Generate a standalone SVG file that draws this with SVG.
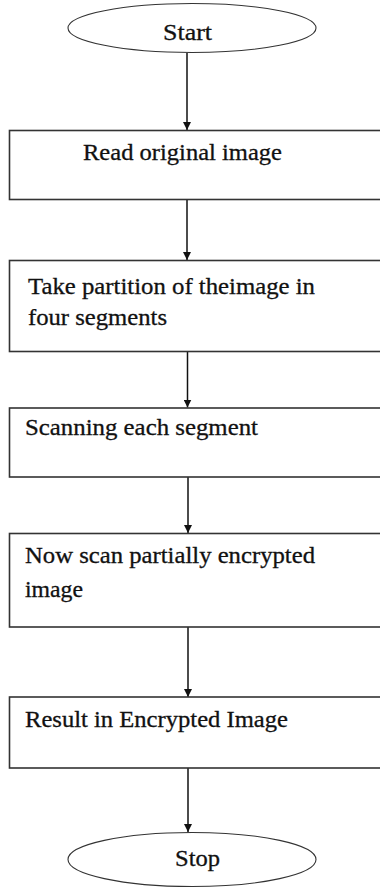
<svg xmlns="http://www.w3.org/2000/svg" width="380" height="888" viewBox="0 0 380 888">
<style>
.box{fill:#fff;stroke:#333;stroke-width:1.6}
.term{fill:#fff;stroke:#333;stroke-width:1.1}
.t{font-family:"Liberation Serif","DejaVu Serif",serif;font-size:23px;fill:#111;stroke:#111;stroke-width:0.3}
.c{stroke:#111;stroke-width:1.5;fill:none;marker-end:url(#ah)}
</style>
<defs>
<marker id="ah" viewBox="0 0 10 10" refX="10" refY="5" markerWidth="8" markerHeight="8" markerUnits="userSpaceOnUse" orient="auto">
<path d="M0,0 L10,5 L0,10 z" fill="#111"/>
</marker>
</defs>
<rect width="380" height="888" fill="#fff"/>
<g id="connectors">
<line class="c" x1="187" y1="53" x2="187" y2="130"/>
<line class="c" x1="187" y1="200" x2="187" y2="260"/>
<line class="c" x1="187.5" y1="352" x2="187.5" y2="407.5"/>
<line class="c" x1="188" y1="477" x2="188" y2="533"/>
<line class="c" x1="188" y1="627" x2="188" y2="697"/>
<line class="c" x1="188" y1="768" x2="188" y2="832"/>
</g>
<g id="start">
<ellipse class="term" cx="192" cy="28" rx="124" ry="24.5"/>
<text class="t" x="163" y="40" textLength="49" lengthAdjust="spacingAndGlyphs">Start</text>
</g>
<g id="read">
<rect class="box" x="9.5" y="130.5" width="380" height="69"/>
<text class="t" x="83" y="160" textLength="199" lengthAdjust="spacingAndGlyphs">Read original image</text>
</g>
<g id="partition">
<rect class="box" x="9.5" y="260.5" width="380" height="91"/>
<text class="t" x="28" y="294" textLength="287" lengthAdjust="spacingAndGlyphs">Take partition of theimage in</text>
<text class="t" x="28" y="325" textLength="139" lengthAdjust="spacingAndGlyphs">four segments</text>
</g>
<g id="scanning">
<rect class="box" x="9.5" y="408" width="380" height="69"/>
<text class="t" x="25" y="435" textLength="233" lengthAdjust="spacingAndGlyphs">Scanning each segment</text>
</g>
<g id="scan-partial">
<rect class="box" x="9.5" y="533.5" width="380" height="93.5"/>
<text class="t" x="25" y="563" textLength="290" lengthAdjust="spacingAndGlyphs">Now scan partially encrypted</text>
<text class="t" x="25" y="597" textLength="58" lengthAdjust="spacingAndGlyphs">image</text>
</g>
<g id="result">
<rect class="box" x="9.5" y="697" width="380" height="71"/>
<text class="t" x="25" y="727" textLength="263" lengthAdjust="spacingAndGlyphs">Result in Encrypted Image</text>
</g>
<g id="stop">
<ellipse class="term" cx="192" cy="859.5" rx="124" ry="27"/>
<text class="t" x="175" y="866" textLength="45" lengthAdjust="spacingAndGlyphs">Stop</text>
</g>
</svg>
